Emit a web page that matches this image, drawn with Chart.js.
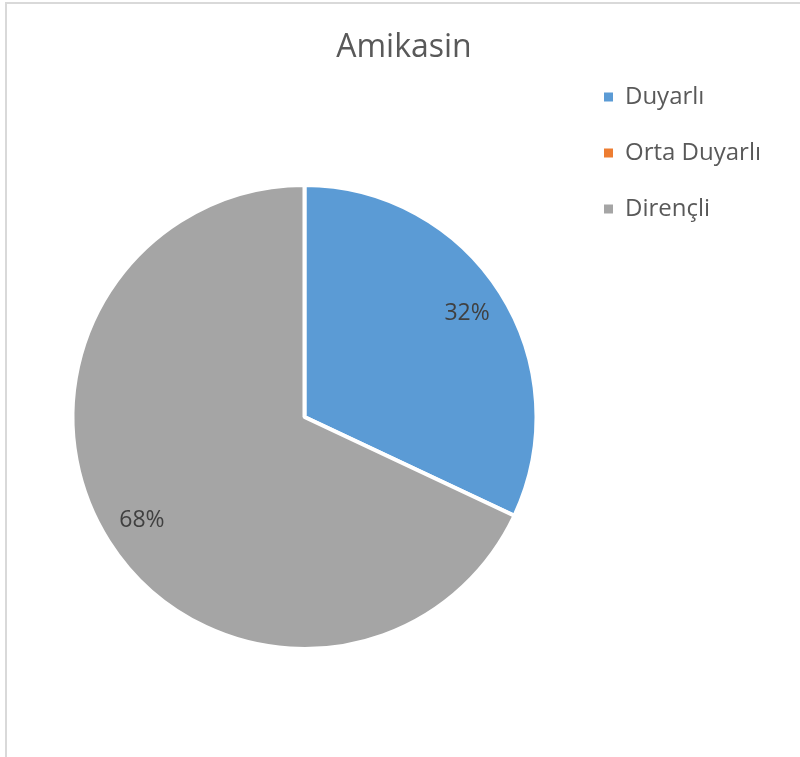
<!DOCTYPE html>
<html>
<head>
<meta charset="utf-8">
<script src="https://cdn.jsdelivr.net/npm/chart.js@4/dist/chart.umd.min.js"></script>
<style>
  html, body { margin: 0; padding: 0; background: #ffffff; }
  body { width: 800px; height: 757px; position: relative; overflow: hidden; }
  .frame {
    position: absolute; left: 5px; top: 2px; width: 900px; height: 900px;
    border-left: 2px solid #d9d9d9; border-top: 2px solid #d9d9d9;
  }
  #wrap { position: absolute; left: 0; top: 0; width: 800px; height: 757px; }
</style>
</head>
<body>
<div class="frame"></div>
<div id="wrap"><canvas id="chart"></canvas></div>
<script>
const chartTitle = 'Amikasin';
const categories = ['Duyarlı', 'Orta Duyarlı', 'Dirençli'];
const percentages = [32, 0, 68];
const sliceColors = ['#5B9BD5', '#ED7D31', '#A5A5A5'];

// Writes each slice's percentage inside it, part way out from the centre.
const sliceLabels = {
  id: 'sliceLabels',
  afterDatasetsDraw(chart) {
    const ctx = chart.ctx;
    const meta = chart.getDatasetMeta(0);
    const values = chart.data.datasets[0].data;
    ctx.save();
    ctx.font = '23px "Open Sans"';
    ctx.fillStyle = '#404040';
    ctx.textAlign = 'center';
    ctx.textBaseline = 'middle';
    meta.data.forEach((arc, i) => {
      if (!values[i]) return;
      const p = arc.getProps(['x', 'y', 'startAngle', 'endAngle', 'outerRadius'], true);
      const mid = (p.startAngle + p.endAngle) / 2;
      const r = p.outerRadius * 0.83;
      ctx.fillText(values[i] + '%', p.x + Math.cos(mid) * r, p.y + Math.sin(mid) * r);
    });
    ctx.restore();
  }
};

const defaultPieLabels = Chart.overrides.pie.plugins.legend.labels.generateLabels;

new Chart(document.getElementById('chart'), {
  type: 'pie',
  data: {
    labels: categories,
    datasets: [{
      data: percentages,
      backgroundColor: sliceColors,
      borderColor: '#ffffff',
      borderWidth: 4,
      hoverOffset: 0
    }]
  },
  options: {
    responsive: true,
    maintainAspectRatio: false,
    animation: false,
    layout: { padding: { left: 37, right: 29, top: 0, bottom: 106 } },
    plugins: {
      title: {
        display: true,
        text: chartTitle,
        color: '#595959',
        font: { family: '"Open Sans"', size: 32, weight: 'normal' },
        padding: { top: 28.8, bottom: 115.8 }
      },
      legend: {
        position: 'right',
        align: 'start',
        title: { display: true, text: ' ', font: { size: 12 }, padding: { top: 38.6, bottom: 0 } },
        labels: {
          color: '#595959',
          font: { family: '"Open Sans"', size: 24 },
          boxWidth: 9,
          boxHeight: 9,
          padding: 32,
          // plain filled squares, without the slice's white outline
          generateLabels(chart) {
            return defaultPieLabels(chart).map(item => Object.assign(item, { lineWidth: 0 }));
          }
        }
      },
      tooltip: { enabled: false }
    }
  },
  plugins: [sliceLabels]
});
</script>
</body>
</html>
